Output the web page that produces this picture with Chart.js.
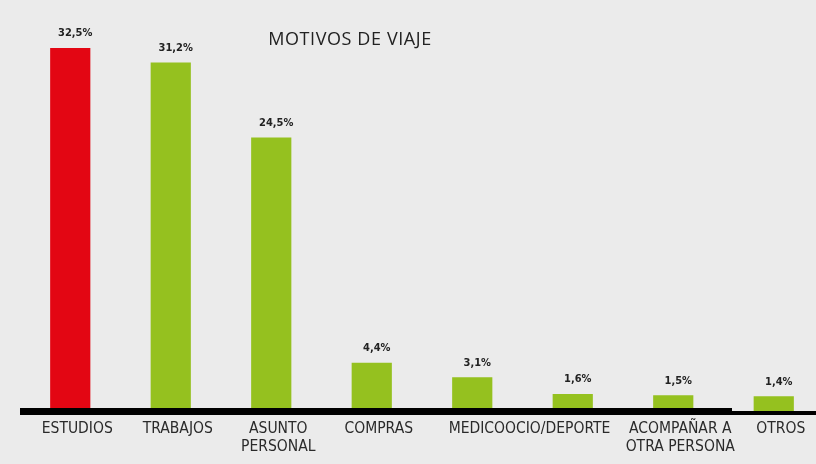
<!DOCTYPE html>
<html>
<head>
<meta charset="utf-8">
<script src="https://cdn.jsdelivr.net/npm/chart.js@4/dist/chart.umd.min.js"></script>
<style>
  html, body { margin: 0; padding: 0; background: #ebebeb; overflow: hidden; }
  #wrap { width: 816px; height: 464px; overflow: hidden; position: relative; }
  canvas { display: block; }
</style>
</head>
<body>
<div id="wrap"><canvas id="c" width="824" height="464"></canvas></div>
<script>
// Motivos de viaje (porcentaje de viajes)
const categories = ['ESTUDIOS', 'TRABAJOS', 'ASUNTO PERSONAL', 'COMPRAS', 'MEDICO', 'OCIO/DEPORTE', 'ACOMPAÑAR A OTRA PERSONA', 'OTROS'];
const tickLabels = ['ESTUDIOS', 'TRABAJOS', ['ASUNTO', 'PERSONAL'], 'COMPRAS', '', '', ['ACOMPAÑAR A', 'OTRA PERSONA'], 'OTROS'];
// MEDICO and OCIO/DEPORTE share one caption across their two columns
const sharedLabel = 'MEDICOOCIO/DEPORTE';
const sharedLabelCols = [4, 5];
const porcentajes = [32.5, 31.2, 24.5, 4.4, 3.1, 1.6, 1.5, 1.4];
const valueLabels = ['32,5%', '31,2%', '24,5%', '4,4%', '3,1%', '1,6%', '1,5%', '1,4%'];
const barColors = ['#e30613', '#95c11f', '#95c11f', '#95c11f', '#95c11f', '#95c11f', '#95c11f', '#95c11f'];
const titleText = 'MOTIVOS DE VIAJE';

const TICK_FONT = '"DejaVu Sans Condensed", "DejaVu Sans", sans-serif';
const TICK_SIZE = 15.5;
const TICK_LINE = 18;
const LABEL_SHIFT = 7;

const decor = {
  id: 'decor',
  beforeDraw(chart) {
    const ctx = chart.ctx;
    ctx.save();
    ctx.fillStyle = '#ebebeb';
    ctx.fillRect(0, 0, chart.width, chart.height);
    ctx.restore();
  },
  afterDatasetsDraw(chart) {
    const ctx = chart.ctx;
    const area = chart.chartArea;
    const xs = chart.scales.x;
    ctx.save();

    // heavy baseline across the foot of the bars
    ctx.fillStyle = '#000';
    ctx.fillRect(area.left, area.bottom - 4, 712, 7);
    ctx.fillRect(area.left + 711, area.bottom - 1, chart.width, 4);

    // value labels above the bars
    const meta = chart.getDatasetMeta(0);
    ctx.fillStyle = '#222';
    ctx.textAlign = 'center';
    ctx.textBaseline = 'middle';
    ctx.font = 'bold 11px "DejaVu Sans Condensed", "DejaVu Sans", sans-serif';
    meta.data.forEach((bar, i) => {
      ctx.fillText(valueLabels[i], bar.x + 5, bar.y - 14.5);
    });

    // caption spanning two columns
    const cx = (xs.getPixelForValue(sharedLabelCols[0]) + xs.getPixelForValue(sharedLabelCols[1])) / 2 + LABEL_SHIFT;
    ctx.fillStyle = '#2a2a2a';
    ctx.font = TICK_SIZE + 'px ' + TICK_FONT;
    ctx.fillText(sharedLabel, cx, area.bottom + 7.5 + TICK_LINE / 2);

    // title
    ctx.font = '18px "Open Sans", "Liberation Sans", sans-serif';
    ctx.letterSpacing = '0.6px';
    ctx.fillStyle = '#222';
    ctx.fillText(titleText, 350, 40);
    ctx.restore();
  }
};

new Chart(document.getElementById('c'), {
  type: 'bar',
  data: {
    labels: tickLabels,
    datasets: [{
      label: 'Motivos de viaje',
      data: porcentajes,
      backgroundColor: barColors,
      borderWidth: 0,
      categoryPercentage: 1,
      barPercentage: 0.4
    }]
  },
  options: {
    responsive: false,
    animation: false,
    devicePixelRatio: 1,
    layout: { padding: { left: 20, right: 0, top: 48, bottom: 0 } },
    plugins: {
      legend: { display: false },
      tooltip: { enabled: false },
      title: { display: false }
    },
    scales: {
      x: {
        grid: { display: false, drawTicks: false },
        border: { display: false },
        ticks: {
          autoSkip: false,
          maxRotation: 0,
          minRotation: 0,
          padding: 7.5,
          labelOffset: LABEL_SHIFT,
          color: '#2a2a2a',
          font: { family: TICK_FONT, size: TICK_SIZE, lineHeight: TICK_LINE / TICK_SIZE }
        },
        afterFit(scale) { scale.height = 52; }
      },
      y: {
        display: false,
        min: 0,
        max: 32.5
      }
    }
  },
  plugins: [decor]
});
</script>
</body>
</html>
